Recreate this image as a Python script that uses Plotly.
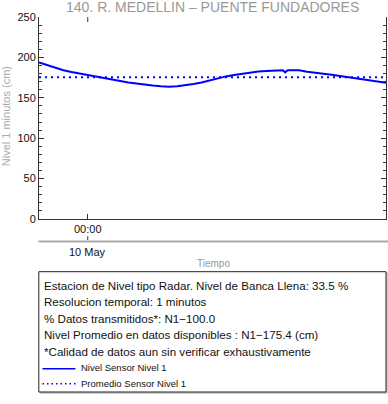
import plotly.graph_objects as go
import pandas as pd

# ---- data ----
start_time = "2023-05-09 23:00"
minutes = [0, 10, 20, 30, 40, 50, 60, 70, 80, 90, 100, 110, 120, 130, 140, 150,
           160, 170, 180, 190, 200, 210, 220, 230, 240, 250, 260, 270, 280, 290,
           300, 303, 306, 310, 320, 330, 340, 350, 360, 370, 380, 390, 400, 410,
           420, 427]
nivel = [193.8, 190.5, 187.3, 184.2, 182.0, 180.0, 178.0, 176.2, 174.3, 172.5,
         170.7, 169.0, 167.5, 166.2, 165.2, 164.3, 163.8, 164.3, 165.5, 167.2,
         169.0, 171.6, 174.3, 176.5, 178.2, 179.8, 181.2, 182.5, 183.2, 183.6,
         184.2, 181.5, 184.0, 184.0, 184.0, 182.3, 180.6, 179.8, 178.5, 177.0,
         175.4, 173.9, 172.4, 170.8, 169.4, 168.6]
promedio = 175.4
tick_time = "2023-05-10 00:00"
tick_label = "00:00"
date_label = "10 May"
title = "140. R. MEDELLIN \u2013 PUENTE FUNDADORES"
info_lines = [
    "Estacion de Nivel tipo Radar. Nivel de Banca Llena: 33.5 %",
    "Resolucion temporal: 1 minutos",
    "% Datos transmitidos*: N1\u2212100.0",
    "Nivel Promedio en datos disponibles : N1\u2212175.4 (cm)",
    "*Calidad de datos aun sin verificar exhaustivamente",
]
legend_names = ["Nivel Sensor Nivel 1", "Promedio Sensor Nivel 1"]

times = pd.to_datetime(start_time) + pd.to_timedelta(minutes, unit="min")

FONT = "Liberation Sans, Arial, sans-serif"
BLUE = "#0000ff"

fig = go.Figure()
fig.add_trace(go.Scatter(x=times, y=nivel, mode="lines",
                         line=dict(color=BLUE, width=2), showlegend=False,
                         name=legend_names[0]))
fig.add_trace(go.Scatter(x=[times[0], times[-1]], y=[promedio, promedio], mode="lines",
                         line=dict(color=BLUE, width=2, dash="2px,4px"), showlegend=False,
                         name=legend_names[1]))

# plot geometry (px)
L, R, T, B = 38.5, 386.0, 17.3, 219.3
W, H = R - L, B - T
def px(xp):
    return (xp - L) / W
def py(yp):
    return (B - yp) / H

shapes = []
annotations = []

# top tick mirror at 00:00
shapes.append(dict(type="line", xref="x", yref="paper", x0=tick_time, x1=tick_time,
                   y0=1, y1=py(T + 5), line=dict(color="#333", width=1)))
# gray separator line
shapes.append(dict(type="line", xref="paper", yref="paper", x0=px(38), x1=px(388),
                   y0=py(241.7), y1=py(241.7), line=dict(color="#aaaaaa", width=2)))
shapes.append(dict(type="line", xref="x", yref="paper", x0=tick_time, x1=tick_time,
                   y0=py(240.5), y1=py(236.5), line=dict(color="#333", width=1)))
# info box (shadow + box)
shapes.append(dict(type="rect", xref="paper", yref="paper", x0=px(39.5), x1=px(387),
                   y0=py(393.3), y1=py(273), line=dict(color="#999", width=1)))
shapes.append(dict(type="rect", xref="paper", yref="paper", x0=px(38.3), x1=px(386),
                   y0=py(392.3), y1=py(272), line=dict(color="#222", width=1),
                   fillcolor="white"))
# legend samples
shapes.append(dict(type="line", xref="paper", yref="paper", x0=px(42), x1=px(75),
                   y0=py(369), y1=py(369), line=dict(color=BLUE, width=1.5)))
shapes.append(dict(type="line", xref="paper", yref="paper", x0=px(42), x1=px(75),
                   y0=py(384), y1=py(384), line=dict(color=BLUE, width=1.5, dash="1.5px,3px")))

annotations.append(dict(text=title, xref="paper", yref="paper", x=px(212), y=py(7.5),
                        showarrow=False, font=dict(family=FONT, size=14, color="#999999"),
                        xanchor="center", yanchor="middle"))
annotations.append(dict(text="Nivel 1 minutos (cm)", xref="paper", yref="paper", x=px(5.5),
                        y=py(116.5), textangle=-90, showarrow=False,
                        font=dict(family=FONT, size=11, color="#aaaaaa"),
                        xanchor="center", yanchor="middle"))
annotations.append(dict(text=date_label, xref="x", yref="paper", x=tick_time, y=py(252.7),
                        showarrow=False, font=dict(family=FONT, size=11, color="#111"),
                        xanchor="center", yanchor="middle"))
annotations.append(dict(text="Tiempo", xref="paper", yref="paper", x=px(213), y=py(264),
                        showarrow=False, font=dict(family=FONT, size=10, color="#999999"),
                        xanchor="center", yanchor="middle"))
for i, line in enumerate(info_lines):
    annotations.append(dict(text=line, xref="paper", yref="paper", x=px(42),
                            y=py(285.3 + 16.5 * i), showarrow=False,
                            font=dict(family=FONT, size=11.6, color="#111"),
                            xanchor="left", yanchor="middle"))
for i, nm in enumerate(legend_names):
    annotations.append(dict(text=nm, xref="paper", yref="paper", x=px(79),
                            y=py(367.5 + 16 * i), showarrow=False,
                            font=dict(family=FONT, size=9.5, color="#111"),
                            xanchor="left", yanchor="middle"))

fig.update_layout(
    width=388, height=404,
    margin=dict(l=L, r=388 - R, t=T, b=404 - B, pad=0),
    paper_bgcolor="white", plot_bgcolor="white",
    font=dict(family=FONT, size=11, color="#111"),
    shapes=shapes, annotations=annotations,
    xaxis=dict(range=[times[0], times[-1]], tickvals=[tick_time], ticktext=[tick_label],
               ticks="inside", ticklen=5, tickcolor="#333", showline=True, linecolor="#333",
               linewidth=1, showgrid=False, zeroline=False,
               tickfont=dict(family=FONT, size=11, color="#111")),
    yaxis=dict(range=[0, 250], tickmode="linear", tick0=0, dtick=50, ticks="inside",
               ticklen=5, tickcolor="#333", showline=True, linecolor="#333", linewidth=1,
               mirror="ticks", showgrid=False, zeroline=False,
               minor=dict(tickmode="linear", tick0=0, dtick=10, ticks="inside", ticklen=3,
                          tickcolor="#333", showgrid=False),
               tickfont=dict(family=FONT, size=11, color="#111")),
)

fig.write_html("out.html", config={"displayModeBar": False},
               post_script="document.body.style.margin='0';document.body.style.overflow='hidden';")
